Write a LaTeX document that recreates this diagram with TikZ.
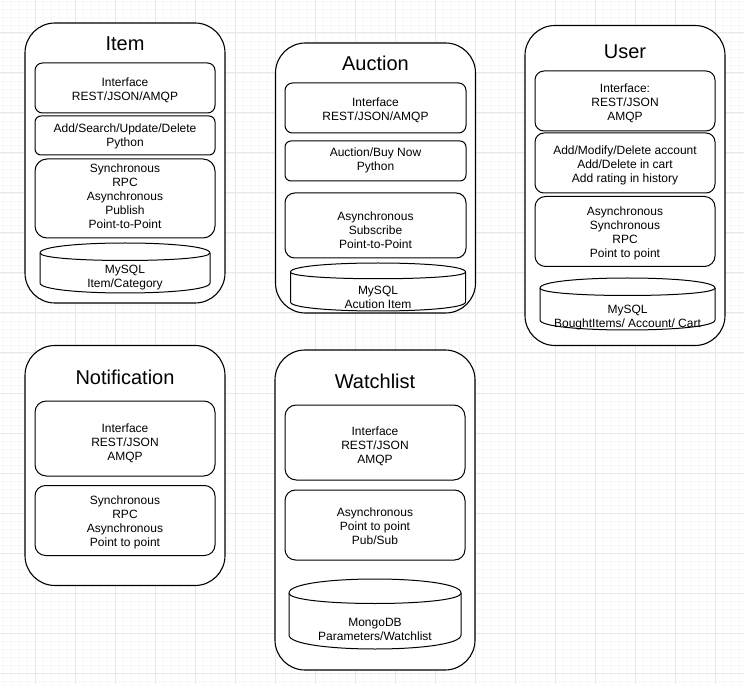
\documentclass[tikz,border=0pt]{standalone}
\usepackage{fontspec}
\setmainfont{Liberation Sans}
\newcommand{\cylshape}[5]{% x y w h dy
  \filldraw[fill=white, draw=black, line width=1pt]
    (#1,#2+#5) .. controls (#1,#2-#5/3) and (#1+#3,#2-#5/3) .. (#1+#3,#2+#5)
    -- (#1+#3,#2+#4-#5) .. controls (#1+#3,#2+#4+#5/3) and (#1,#2+#4+#5/3) .. (#1,#2+#4-#5) -- cycle;
  \draw[line width=1pt] (#1,#2+#5) .. controls (#1,#2+2*#5) and (#1+#3,#2+2*#5) .. (#1+#3,#2+#5);
}
\begin{document}
\begin{tikzpicture}[x=1pt,y=-1pt,
  outerbox/.style={draw=black, fill=white, line width=1.1pt, rounded corners=30pt, inner sep=0pt, minimum width=200pt},
  innerbox/.style={draw=black, fill=white, line width=1pt, inner sep=0pt, minimum width=180pt},
  titletext/.style={font=\fontsize{20}{24}\selectfont, inner sep=0pt},
  lbl/.style={font=\fontsize{12}{14}\selectfont, align=center, inner sep=0pt, yshift=-1.5pt},
  minorgrid/.style={draw=black!3, line width=0.8pt},
  majorgrid/.style={draw=black!9, line width=1pt}]
\useasboundingbox (0,0) rectangle (744,684);
\fill[white] (0,0) rectangle (744,684);
% grid
\foreach \i in {0,...,93} { \draw[minorgrid] (3.5+8*\i,0) -- (3.5+8*\i,684); }
\foreach \i in {0,...,85} { \draw[minorgrid] (0,1+8*\i) -- (744,1+8*\i); }
\foreach \i in {0,...,18} { \draw[majorgrid] (35.5+40*\i,0) -- (35.5+40*\i,684); }
\foreach \i in {0,...,16} { \draw[majorgrid] (0,33+40*\i) -- (744,33+40*\i); }

% ---------- Item ----------
\node[outerbox, minimum height=280pt] (item) at (125,163) {};
\node[titletext] (itemT) at (125,43.5) {Item};
\node[innerbox, minimum height=50pt, rounded corners=7.5pt] (itemA) at (125,88) {};
\node[lbl] (itemAt) at (125,88.7) {Interface\\REST/JSON/AMQP};
\node[innerbox, minimum height=39pt, rounded corners=6pt] (itemB) at (125,135.5) {};
\node[lbl] (itemBt) at (125,134.7) {Add/Search/Update/Delete\\Python};
\node[innerbox, minimum height=79pt, rounded corners=12pt] (itemC) at (125,198.5) {};
\node[lbl] (itemCt) at (125,194.5) {Synchronous\\RPC\\Asynchronous\\Publish\\Point-to-Point};
\cylshape{40}{243}{170}{50}{10}
\node[lbl] (itemDt) at (125,276) {MySQL\\Item/Category};

% ---------- Auction ----------
\node[outerbox, minimum height=270pt] (auc) at (375.5,178) {};
\node[titletext] (aucT) at (375.5,63.5) {Auction};
\node[innerbox, minimum height=50pt, rounded corners=7.5pt, minimum width=181pt] (aucA) at (375.5,108) {};
\node[lbl] (aucAt) at (375.5,108.7) {Interface\\REST/JSON/AMQP};
\node[innerbox, minimum height=40pt, rounded corners=6pt, minimum width=181pt] (aucB) at (375.5,161) {};
\node[lbl] (aucBt) at (375.5,158.7) {Auction/Buy Now\\Python};
\node[innerbox, minimum height=65pt, rounded corners=9.75pt, minimum width=181pt] (aucC) at (375.5,225.5) {};
\node[lbl] (aucCt) at (375.5,229) {Asynchronous\\Subscribe\\Point-to-Point};
\cylshape{290.5}{263}{175}{48}{9}
\node[lbl] (aucDt) at (378,295.5) {MySQL\\Acution Item};

% ---------- User ----------
\node[outerbox, minimum height=320pt] (user) at (625,185.5) {};
\node[titletext] (userT) at (625,52) {User};
\node[innerbox, minimum height=60pt, rounded corners=9pt] (userA) at (625,101) {};
\node[lbl] (userAt) at (625,102) {Interface:\\REST/JSON\\AMQP};
\node[innerbox, minimum height=60pt, rounded corners=9pt] (userB) at (625,163) {};
\node[lbl] (userBt) at (625,163.7) {Add/Modify/Delete account\\Add/Delete in cart\\Add rating in history};
\node[innerbox, minimum height=70pt, rounded corners=10.5pt] (userC) at (625,231.5) {};
\node[lbl] (userCt) at (625,231.7) {Asynchronous\\Synchronous\\RPC\\Point to point};
\cylshape{540}{278}{175}{52}{10}
\node[lbl] (userDt) at (627.5,316.5) {MySQL\\BoughtItems/ Account/ Cart};

% ---------- Notification ----------
\node[outerbox, minimum height=240pt] (notif) at (125,465.5) {};
\node[titletext] (notifT) at (125,377) {Notification};
\node[innerbox, minimum height=75pt, rounded corners=11.25pt] (notifA) at (125,438.5) {};
\node[lbl] (notifAt) at (125,441.7) {Interface\\REST/JSON\\AMQP};
\node[innerbox, minimum height=70pt, rounded corners=10.5pt] (notifB) at (125,520.5) {};
\node[lbl] (notifBt) at (125,520.7) {Synchronous\\RPC\\Asynchronous\\Point to point};

% ---------- Watchlist ----------
\node[outerbox, minimum height=320pt] (watch) at (375,510) {};
\node[titletext] (watchT) at (375,381) {Watchlist};
\node[innerbox, minimum height=75pt, rounded corners=11.25pt] (watchA) at (375,442.5) {};
\node[lbl] (watchAt) at (375,445) {Interface\\REST/JSON\\AMQP};
\node[innerbox, minimum height=70pt, rounded corners=10.5pt] (watchB) at (375,525) {};
\node[lbl] (watchBt) at (375,524.5) {Asynchronous\\Point to point\\Pub/Sub};
\cylshape{289}{579}{172}{70}{14}
\node[lbl] (watchDt) at (375,627.5) {MongoDB\\Parameters/Watchlist};
\end{tikzpicture}
\end{document}
